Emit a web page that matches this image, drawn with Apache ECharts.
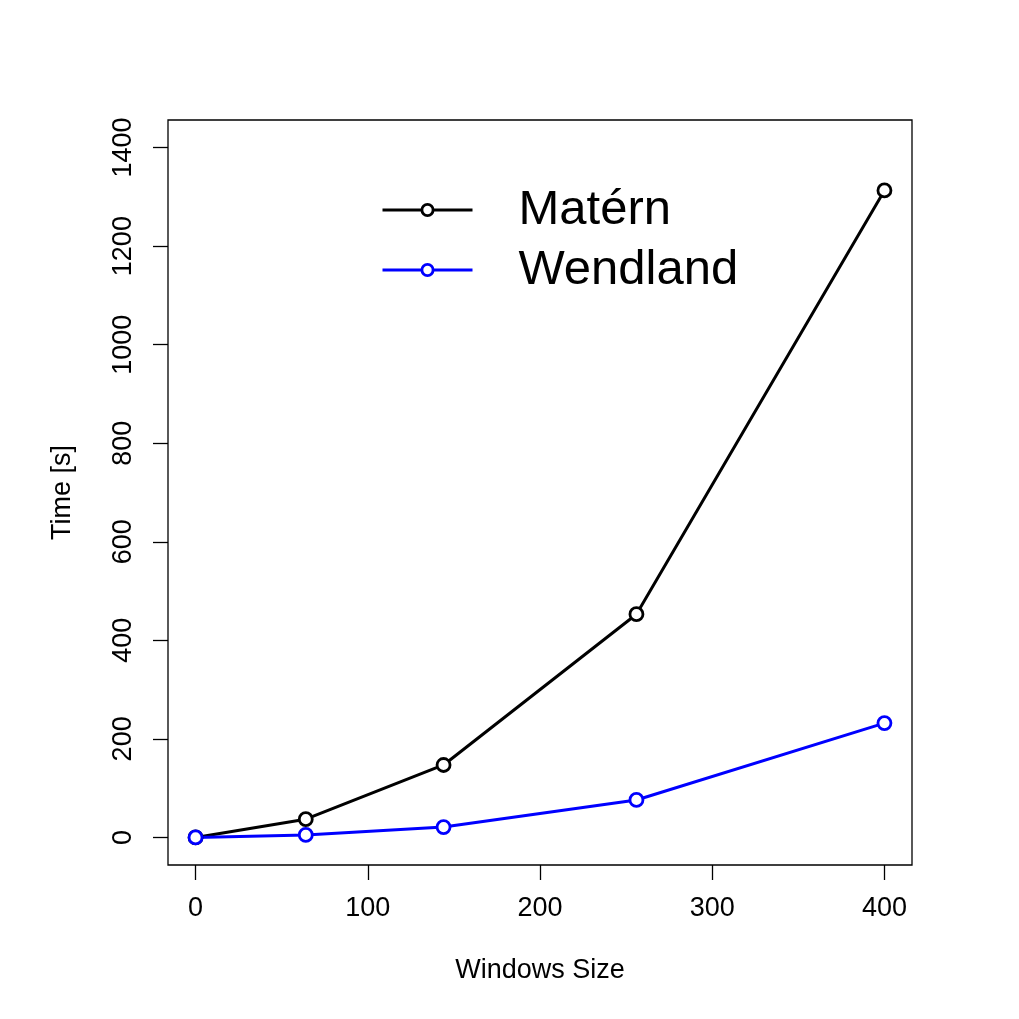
<!DOCTYPE html>
<html>
<head>
<meta charset="utf-8">
<script src="https://cdn.jsdelivr.net/npm/echarts@6/dist/echarts.min.js"></script>
<style>
  html, body { margin: 0; padding: 0; background: #fff; }
  #main { width: 1019px; height: 1019px; }
</style>
</head>
<body>
<div id="main"></div>
<script>
var windowSizes = [0, 64, 144, 256, 400]
var maternTime = [0, 37, 147, 453, 1313]
var wendlandTime = [0, 5, 21, 76, 232]
var xTicks = [0, 100, 200, 300, 400]
var yTicks = [0, 200, 400, 600, 800, 1000, 1200, 1400]

var font = 'Liberation Sans, Arial, Helvetica, sans-serif'

function pairs(xs, ys) {
  return xs.map(function (x, i) { return [x, ys[i]] })
}

function plain(v) {
  return String(v)
}

var chart = echarts.init(document.getElementById('main'))
var option = {
  backgroundColor: '#fff',
  animation: false,
  textStyle: { fontFamily: font, color: '#000' },
  grid: {
    left: 168,
    right: 107,
    top: 120,
    bottom: 154,
    show: true,
    borderColor: '#000',
    borderWidth: 1.3
  },
  legend: {
    orient: 'vertical',
    left: 381,
    top: 185,
    padding: 0,
    itemWidth: 90,
    itemHeight: 14,
    itemGap: 10,
    lineStyle: { width: 3 },
    itemStyle: { borderWidth: 2.8 },
    textStyle: {
      fontFamily: font,
      fontSize: 49,
      lineHeight: 50,
      color: '#000',
      padding: [0, 0, 0, 41]
    },
    data: ['Matérn', 'Wendland']
  },
  xAxis: {
    type: 'value',
    min: -16,
    max: 416,
    name: 'Windows Size',
    nameLocation: 'middle',
    nameGap: 92,
    nameTextStyle: { fontFamily: font, fontSize: 27, color: '#000' },
    axisLine: { show: false, onZero: false },
    splitLine: { show: false },
    axisTick: {
      show: true,
      customValues: xTicks,
      length: 15,
      lineStyle: { color: '#000', width: 1.3 }
    },
    axisLabel: {
      customValues: xTicks,
      formatter: plain,
      fontFamily: font,
      fontSize: 27,
      color: '#000',
      margin: 30
    }
  },
  yAxis: {
    type: 'value',
    min: -56,
    max: 1456,
    name: 'Time [s]',
    nameLocation: 'middle',
    nameGap: 92,
    nameTextStyle: { fontFamily: font, fontSize: 27, color: '#000' },
    axisLine: { show: false, onZero: false },
    splitLine: { show: false },
    axisTick: {
      show: true,
      customValues: yTicks,
      length: 15,
      lineStyle: { color: '#000', width: 1.3 }
    },
    axisLabel: {
      customValues: yTicks,
      formatter: plain,
      rotate: 90,
      fontFamily: font,
      fontSize: 27,
      color: '#000',
      margin: 31
    }
  },
  series: [
    {
      name: 'Matérn',
      type: 'line',
      data: pairs(windowSizes, maternTime),
      symbol: 'circle',
      symbolSize: 13,
      clip: false,
      lineStyle: { color: '#000', width: 3 },
      itemStyle: { color: '#fff', borderColor: '#000', borderWidth: 2.8 }
    },
    {
      name: 'Wendland',
      type: 'line',
      data: pairs(windowSizes, wendlandTime),
      symbol: 'circle',
      symbolSize: 13,
      clip: false,
      lineStyle: { color: '#0000ff', width: 3 },
      itemStyle: { color: '#fff', borderColor: '#0000ff', borderWidth: 2.8 }
    }
  ]
}
chart.setOption(option)
</script>
</body>
</html>
